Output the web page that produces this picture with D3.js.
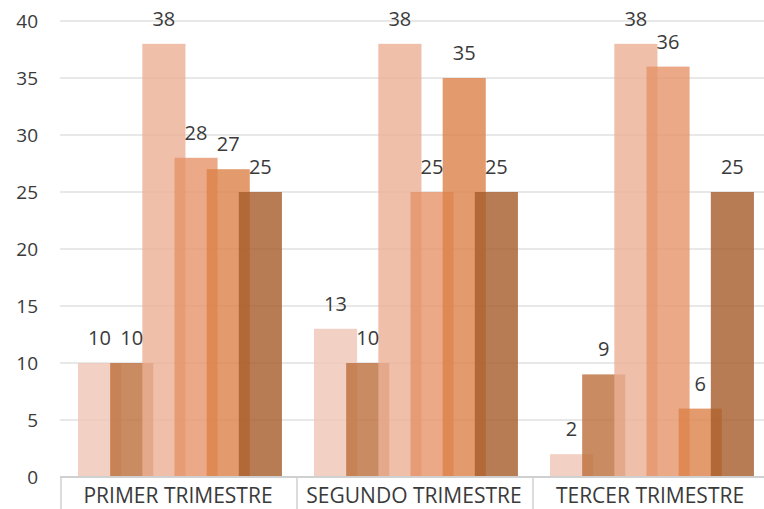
<!DOCTYPE html>
<html>
<head>
<meta charset="utf-8">
<script src="https://cdn.jsdelivr.net/npm/d3@7"></script>
<style>
  body { margin: 0; background: #fff; }
  text { font-family: "Open Sans", sans-serif; fill: #3a3a3a; }
</style>
</head>
<body>
<svg id="canvas" width="764" height="509"></svg>
<script>
var categories = ["PRIMER TRIMESTRE", "SEGUNDO TRIMESTRE", "TERCER TRIMESTRE"];
var seriesNames = ["s1", "s2", "s3", "s4", "s5", "s6"];
var s1 = [10, 13, 2];
var s2 = [10, 10, 9];
var s3 = [38, 38, 38];
var s4 = [28, 25, 36];
var s5 = [27, 35, 6];
var s6 = [25, 25, 25];
var yTicks = [0, 5, 10, 15, 20, 25, 30, 35, 40];
var colors = ["#f0c4b5", "#bb6e3b", "#ebaf95", "#e69369", "#dc8149", "#a65b2b"];

var allSeries = [s1, s2, s3, s4, s5, s6];

var svg = d3.select('#canvas');

var x0 = d3.scaleBand()
    .domain(categories)
    .range([61, 769]);

var y = d3.scaleLinear()
    .domain([0, 40])
    .range([477, 21]);

// series slots inside a category, bars wider than slot so they overlap
var inner = 17;
var x1 = d3.scaleBand()
    .domain(seriesNames)
    .range([inner, inner + 193]);
var barW = x1.bandwidth() * 1.34;

// gridlines
svg.append('g')
    .selectAll('line')
    .data(yTicks.slice(1))
    .enter()
    .append('line')
    .attr('x1', 60)
    .attr('x2', 764)
    .attr('y1', function(d) { return y(d); })
    .attr('y2', function(d) { return y(d); })
    .style('stroke', '#e8e8e8')
    .style('stroke-width', 2);

// y labels
svg.append('g')
    .selectAll('text')
    .data(yTicks)
    .enter()
    .append('text')
    .attr('x', 38)
    .attr('y', function(d) { return y(d); })
    .attr('dy', '0.36em')
    .attr('text-anchor', 'end')
    .style('font-size', '19px')
    .text(function(d) { return d; });

// bars
var bars = [];
allSeries.forEach(function(vals, si) {
    vals.forEach(function(v, ci) {
        bars.push({ cat: categories[ci], s: seriesNames[si], si: si, value: v });
    });
});

svg.append('g')
    .selectAll('rect')
    .data(bars)
    .enter()
    .append('rect')
    .attr('x', function(d) { return x0(d.cat) + x1(d.s); })
    .attr('y', function(d) { return y(d.value); })
    .attr('width', barW)
    .attr('height', function(d) { return y(0) - y(d.value); })
    .style('fill', function(d) { return colors[d.si]; })
    .style('fill-opacity', 0.8);

// value labels
svg.append('g')
    .selectAll('text')
    .data(bars)
    .enter()
    .append('text')
    .attr('x', function(d) { return x0(d.cat) + x1(d.s) + barW / 2; })
    .attr('y', function(d) { return y(d.value) - 18; })
    .attr('text-anchor', 'middle')
    .style('font-size', '20px')
    .text(function(d) { return d.value; });

// axis line and category boxes
svg.append('line')
    .attr('x1', 60)
    .attr('x2', 764)
    .attr('y1', y(0))
    .attr('y2', y(0))
    .style('stroke', '#d0d0d0')
    .style('stroke-width', 2);

svg.append('g')
    .selectAll('line')
    .data(categories)
    .enter()
    .append('line')
    .attr('x1', function(d) { return x0(d); })
    .attr('x2', function(d) { return x0(d); })
    .attr('y1', y(0))
    .attr('y2', 509)
    .style('stroke', '#d0d0d0')
    .style('stroke-width', 1.5);

svg.append('g')
    .selectAll('text')
    .data(categories)
    .enter()
    .append('text')
    .attr('x', function(d) { return x0(d) + x0.bandwidth() / 2 - 1; })
    .attr('y', 503)
    .attr('text-anchor', 'middle')
    .style('font-size', '21px')
    .text(function(d) { return d; });
</script>
</body>
</html>
